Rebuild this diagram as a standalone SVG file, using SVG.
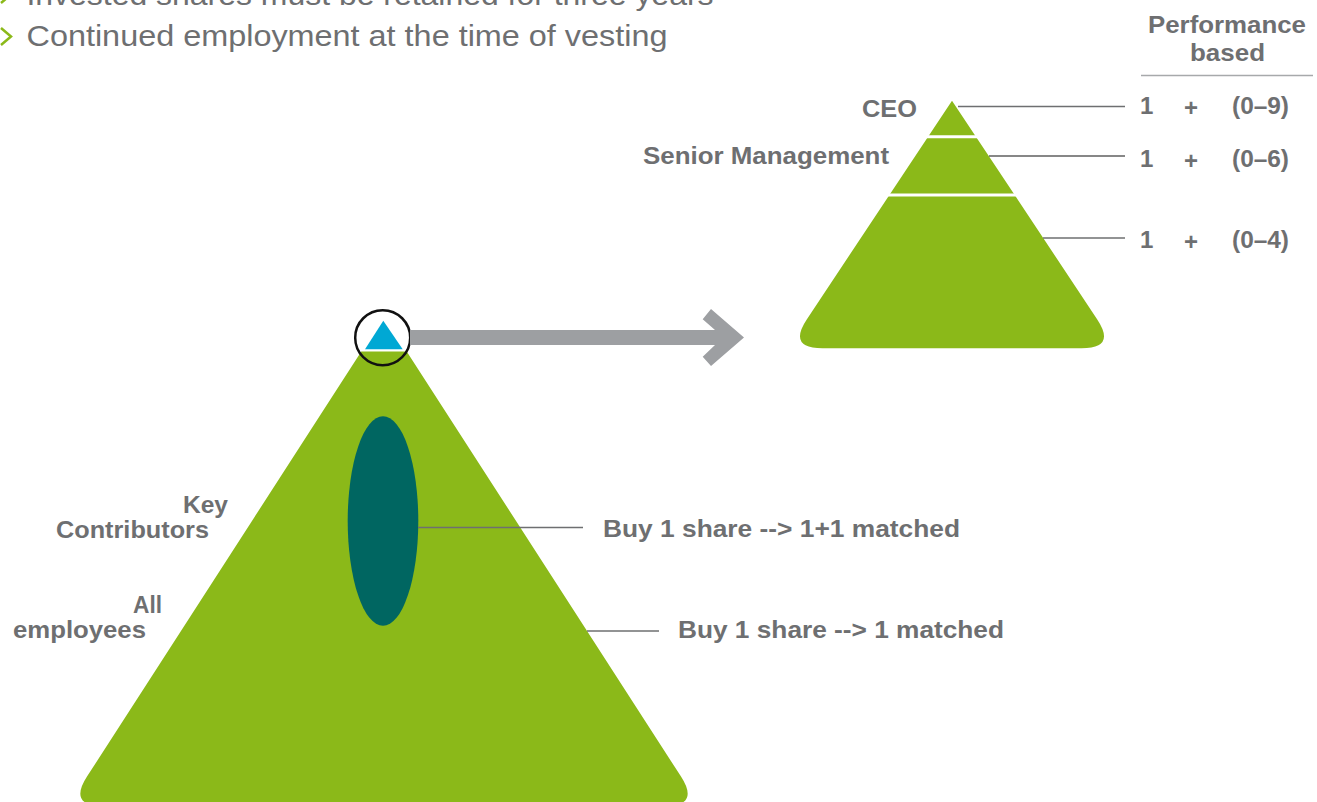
<svg xmlns="http://www.w3.org/2000/svg" width="1317" height="802" viewBox="0 0 1317 802">
<defs>
<style>
.t{font-family:"Liberation Sans",Arial,sans-serif;fill:#6e6f71}
.lb{font-family:"Liberation Sans",Arial,sans-serif;font-weight:bold;font-size:24px;fill:#6e6f71}
.green{fill:#8bb919}
.lead{stroke:#6e6f71;stroke-width:1.5;fill:none}
.chev{stroke:#8bb919;stroke-width:2.5;fill:none}
.sep{stroke:#ffffff;stroke-width:3}
</style>
</defs>
<rect width="1317" height="802" fill="#ffffff"/>
<g id="bullets">
<polyline class="chev" points="1,-14 11,-5.5 1,3"/>
<text class="t" x="26.5" y="5" font-size="30" textLength="687" lengthAdjust="spacingAndGlyphs">Invested shares must be retained for three years</text>
<polyline class="chev" points="1,28 11,36.5 1,45"/>
<text class="t" x="26.5" y="46" font-size="30" textLength="641" lengthAdjust="spacingAndGlyphs">Continued employment at the time of vesting</text>
</g>
<g id="big-pyramid">
<path class="green" d="M361.3,351.5 L406.7,351.5 L681,776.6 Q700,806 665,806 L103,806 Q68,806 87,776.6 Z"/>
<ellipse cx="383" cy="521" rx="35.3" ry="104.8" fill="#006661"/>
</g>
<g id="top-marker">
<polygon points="383.3,320.7 365,349.3 402.7,349.3" fill="#00a8d4"/>
<circle cx="382.7" cy="337.7" r="27.5" fill="none" stroke="#111111" stroke-width="2.5"/>
</g>
<g id="small-pyramid">
<path class="green" d="M952,100.7 L1097.1,319.2 Q1116.5,348.3 1081.5,348.3 L822.5,348.3 Q787.5,348.3 806.9,319.2 Z"/>
<line class="sep" x1="900" y1="136.7" x2="1005" y2="136.7"/>
<line class="sep" x1="860" y1="195" x2="1045" y2="195"/>
</g>
<g id="connectors">
<path d="M410,330 L715,330 L702.7,319.3 L711,309 L744,337.5 L711,366 L702.7,356.7 L715,345 L410,345 Z" fill="#9d9fa2"/>
<line class="lead" x1="418" y1="527.5" x2="583" y2="527.5"/>
<line class="lead" x1="587" y1="631" x2="659" y2="631"/>
<line class="lead" x1="958" y1="106.5" x2="1125" y2="106.5"/>
<line x1="989" y1="156" x2="1125" y2="156" stroke="#111111" stroke-width="1.2"/>
<line class="lead" x1="1043" y1="238" x2="1125" y2="238"/>
<line x1="1141" y1="75.5" x2="1313" y2="75.5" stroke="#a7a9ab" stroke-width="1.5"/>
</g>
<g id="labels-left">
<text class="lb" x="183" y="513" textLength="45" lengthAdjust="spacingAndGlyphs">Key</text>
<text class="lb" x="56" y="538" textLength="153" lengthAdjust="spacingAndGlyphs">Contributors</text>
<text class="lb" x="133" y="613" textLength="29" lengthAdjust="spacingAndGlyphs">All</text>
<text class="lb" x="13" y="638" textLength="133" lengthAdjust="spacingAndGlyphs">employees</text>
</g>
<g id="labels-match">
<text class="lb" x="603" y="537" textLength="357" lengthAdjust="spacingAndGlyphs">Buy 1 share --&gt; 1+1 matched</text>
<text class="lb" x="678" y="638" textLength="326" lengthAdjust="spacingAndGlyphs">Buy 1 share --&gt; 1 matched</text>
</g>
<g id="labels-levels">
<text class="lb" x="862" y="117" textLength="55" lengthAdjust="spacingAndGlyphs">CEO</text>
<text class="lb" x="643" y="164" textLength="246" lengthAdjust="spacingAndGlyphs">Senior Management</text>
</g>
<g id="performance">
<text class="lb" x="1227" y="33" text-anchor="middle" textLength="158" lengthAdjust="spacingAndGlyphs">Performance</text>
<text class="lb" x="1227.5" y="61" text-anchor="middle" textLength="75" lengthAdjust="spacingAndGlyphs">based</text>
<text class="lb" x="1140" y="114">1</text>
<text class="lb" x="1191" y="116" text-anchor="middle">+</text>
<text class="lb" x="1232" y="114" textLength="57" lengthAdjust="spacingAndGlyphs">(0–9)</text>
<text class="lb" x="1140" y="167">1</text>
<text class="lb" x="1191" y="169" text-anchor="middle">+</text>
<text class="lb" x="1232" y="167" textLength="57" lengthAdjust="spacingAndGlyphs">(0–6)</text>
<text class="lb" x="1140" y="248">1</text>
<text class="lb" x="1191" y="250" text-anchor="middle">+</text>
<text class="lb" x="1232" y="248" textLength="57" lengthAdjust="spacingAndGlyphs">(0–4)</text>
</g>
</svg>
